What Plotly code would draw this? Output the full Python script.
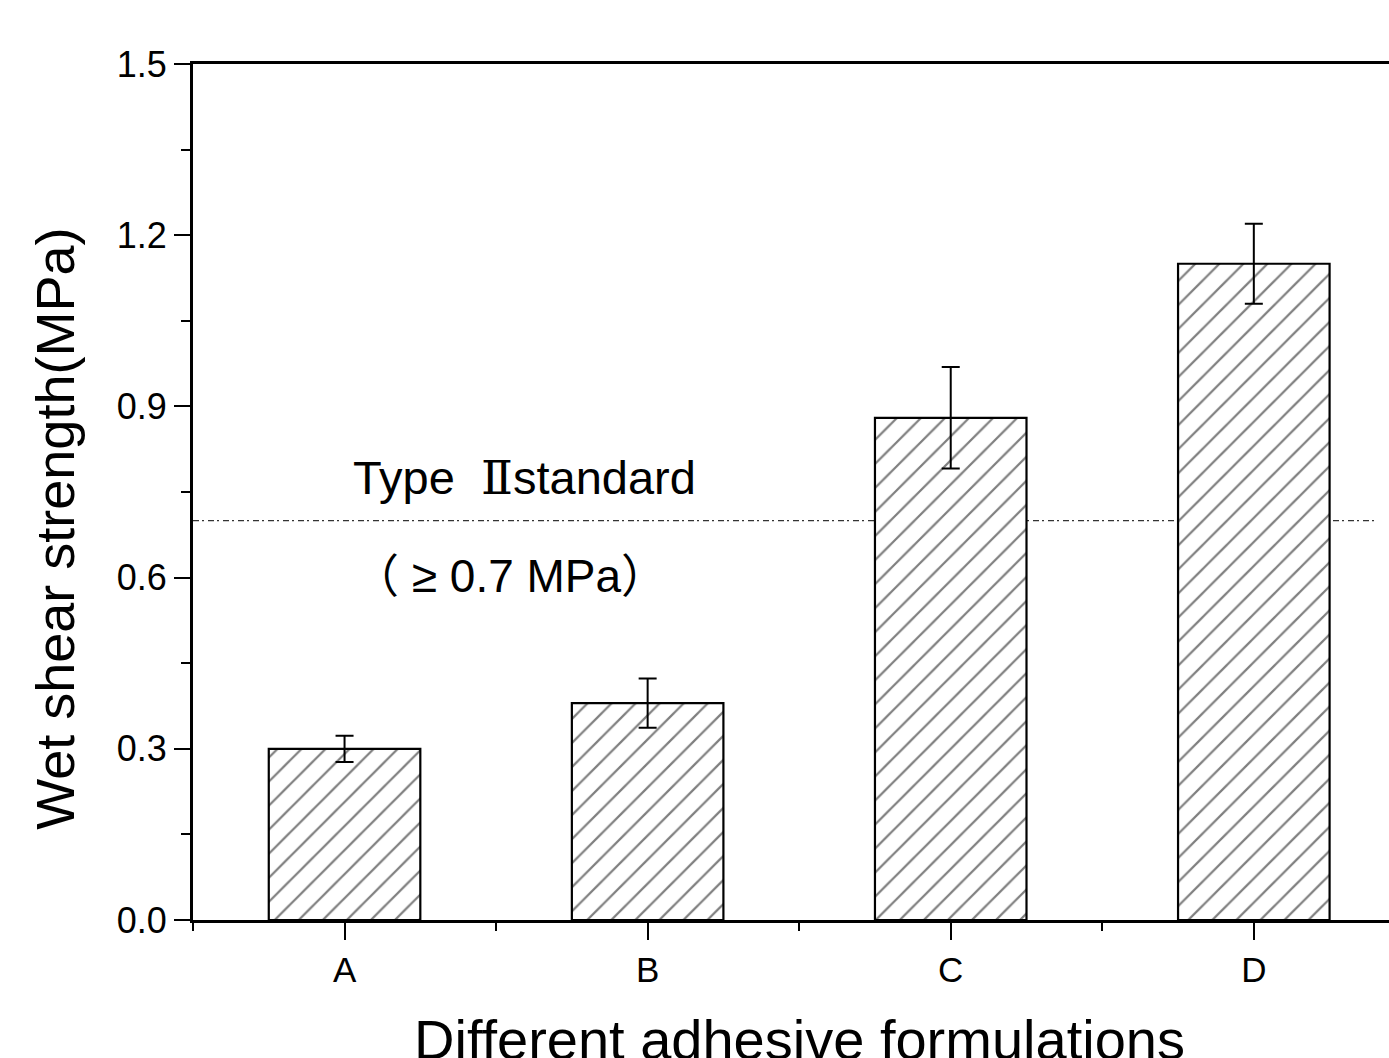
import plotly.graph_objects as go

categories = ["A", "B", "C", "D"]
strength = [0.30, 0.38, 0.88, 1.15]
errors = [0.023, 0.043, 0.089, 0.070]
standard_value = 0.7
y_ticks = [0.0, 0.3, 0.6, 0.9, 1.2, 1.5]
y_tick_labels = ["0.0", "0.3", "0.6", "0.9", "1.2", "1.5"]

x_pos = list(range(len(categories)))

FONT = "Liberation Sans, Arial, Noto Sans CJK SC, sans-serif"
ROMAN = "DejaVu Serif"

fig = go.Figure()
fig.add_trace(go.Bar(
    x=x_pos, y=strength, width=0.5,
    marker=dict(
        color="white",
        line=dict(color="black", width=2.2),
        pattern=dict(shape="/", size=17, solidity=0.13, fgcolor="black", bgcolor="white", fillmode="overlay"),
    ),
    error_y=dict(type="data", array=errors, visible=True, color="black", thickness=2, width=9),
    showlegend=False,
))

fig.add_shape(type="line", xref="paper", yref="y", x0=0, x1=0.988,
              y0=standard_value, y1=standard_value,
              line=dict(color="#333333", width=1.3, dash="6px,3px,2px,4px"), layer="below")

fig.add_annotation(x=0.02, y=0.775, xref="x", yref="y",
                   text=f"Type  <span style=\"font-family:'{ROMAN}'\">Ⅱ</span>standard",
                   showarrow=False, xanchor="left", yanchor="middle",
                   font=dict(family=FONT, size=47, color="black"))
fig.add_annotation(x=0.02, y=0.603, xref="x", yref="y", text="（ ≥ 0.7 MPa）",
                   showarrow=False, xanchor="left", yanchor="middle",
                   font=dict(family=FONT, size=46, color="black"))

# axis titles as annotations (positioned as in the original)
fig.add_annotation(x=-0.1154, y=0.457, xref="paper", yref="paper",
                   text="Wet shear strength(MPa)", textangle=-90,
                   showarrow=False, xanchor="center", yanchor="middle",
                   font=dict(family=FONT, size=54, color="black"))
fig.add_annotation(x=0.5067, y=-0.1, xref="paper", yref="paper",
                   text="Different adhesive formulations",
                   showarrow=False, xanchor="center", yanchor="top",
                   font=dict(family=FONT, size=56, color="black"))

fig.update_layout(
    width=1389, height=1058, autosize=False,
    margin=dict(l=193, r=0, t=64, b=138),
    plot_bgcolor="white", paper_bgcolor="white",
    font=dict(family=FONT, color="black"),
    bargap=0.5,
)

fig.update_xaxes(
    range=[-0.5, 3.446],
    tickmode="array", tickvals=x_pos, ticktext=categories,
    ticks="outside", ticklen=17, tickwidth=2.2, tickcolor="black",
    minor=dict(tickmode="linear", tick0=0.5, dtick=1, ticks="outside", ticklen=8, tickwidth=2.2, tickcolor="black"),
    showline=True, linecolor="black", linewidth=3, mirror=True,
    showgrid=False, zeroline=False, automargin=False,
    tickfont=dict(family=FONT, size=35, color="black"),
)

fig.update_yaxes(
    range=[0, 1.5],
    tickmode="array", tickvals=y_ticks, ticktext=y_tick_labels,
    ticks="outside", ticklen=16, tickwidth=2.2, tickcolor="black",
    minor=dict(tickmode="linear", tick0=0.15, dtick=0.3, ticks="outside", ticklen=9, tickwidth=2.2, tickcolor="black"),
    showline=True, linecolor="black", linewidth=3, mirror=False,
    showgrid=False, zeroline=False, automargin=False,
    tickfont=dict(family=FONT, size=36, color="black"),
)

fig.write_html(
    "out.html",
    config={"displayModeBar": False},
    post_script="document.body.style.margin='0';document.body.style.overflow='hidden';",
)
